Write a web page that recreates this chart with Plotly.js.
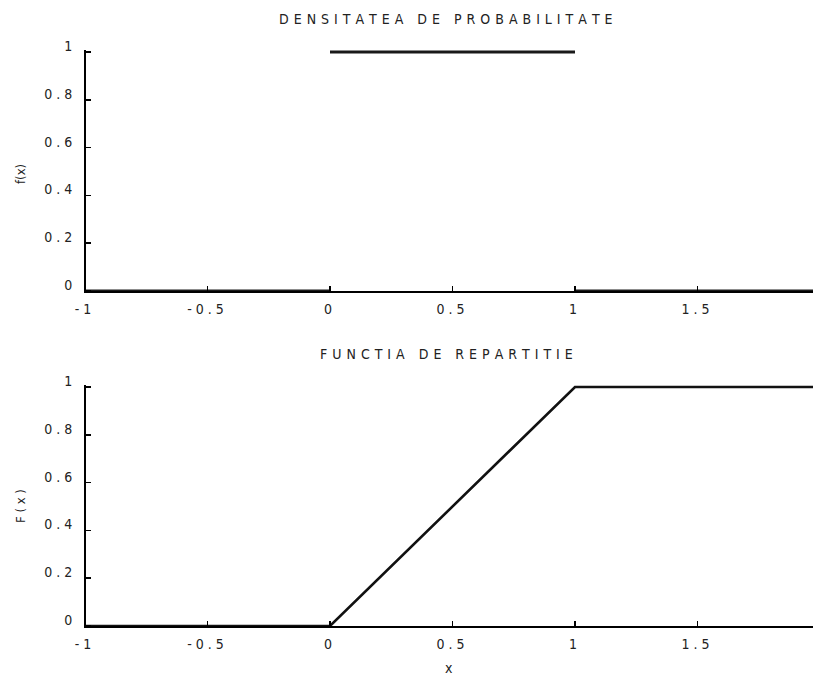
<!DOCTYPE html>
<html>
<head>
<meta charset="utf-8">
<script src="https://cdn.plot.ly/plotly-3.0.1.min.js"></script>
<style>html,body{margin:0;padding:0;background:#fff;}#chart{width:813px;height:677px;}</style>
</head>
<body>
<div id="chart"></div>
<script>
// Data
const xPdf = [-1, 0, null, 0, 1, null, 1, 2];
const yPdf = [0, 0, null, 1, 1, null, 0, 0];
const xCdf = [-1, 0, 1, 2];
const yCdf = [0, 0, 1, 1];
const xTickVals = [-1, -0.5, 0, 0.5, 1, 1.5];
const xTickText = ['- 1', '- 0 . 5', '0', '0 . 5', '1', '1 . 5'];
const yTickVals = [0, 0.2, 0.4, 0.6, 0.8, 1];
const yTickText = ['0', '0 . 2', '0 . 4', '0 . 6', '0 . 8', '1'];
const titleTop = 'D E N S I T A T E A\u00a0\u00a0 D E\u00a0\u00a0 P R O B A B I L I T A T E';
const titleBottom = 'F U N C T I A\u00a0\u00a0 D E\u00a0\u00a0 R E P A R T I T I E';
const yTitleTop = 'f(x)';
const yTitleBottom = 'F ( x )';
const xTitle = 'x';

const FONT = '"DejaVu Sans Condensed", "Liberation Sans Narrow", sans-serif';
const W = 813, H = 677;
const xLeftPx = 85;
const pxPerX = 245;
const xMax = -1 + (W - xLeftPx) / pxPerX;

function py(p) { return 1 - p / H; }

const traces = [
  {x: xPdf, y: yPdf, xaxis: 'x', yaxis: 'y', mode: 'lines', line: {color: '#1a1a1a', width: 3}, hoverinfo: 'skip', connectgaps: false},
  {x: xCdf, y: yCdf, xaxis: 'x2', yaxis: 'y2', mode: 'lines', line: {color: '#111', width: 2.6}, hoverinfo: 'skip'}
];

function xax(posPx) {
  return {
    domain: [xLeftPx / W, 1], range: [-1, xMax], anchor: 'free', position: py(posPx),
    showline: true, linecolor: '#000', linewidth: 1.5, showgrid: false, zeroline: false,
    ticks: 'inside', ticklen: 5, tickwidth: 1.5, tickcolor: '#000',
    tickvals: xTickVals, ticktext: xTickText, ticklabelstandoff: 5, ticklabelshift: -2,
    tickfont: {family: FONT, size: 14, color: '#222'}
  };
}
function yax(topPx, botPx) {
  return {
    domain: [py(botPx + 2.4), py(topPx - 2.4)], range: [-0.01, 1.01], anchor: 'free', position: xLeftPx / W,
    showline: true, linecolor: '#000', linewidth: 2, showgrid: false, zeroline: false,
    ticks: 'inside', ticklen: 5, tickwidth: 1.5, tickcolor: '#000',
    tickvals: yTickVals, ticktext: yTickText, ticklabelshift: -6, ticklabelstandoff: 9,
    tickfont: {family: FONT, size: 14, color: '#222'}
  };
}

const ann = (text, xp, yp, angle, size) => ({
  text: text, xref: 'paper', yref: 'paper', x: xp / W, y: py(yp), xanchor: 'center', yanchor: 'middle',
  showarrow: false, textangle: angle || 0, font: {family: FONT, size: size || 13, color: '#222'}
});

const spaced = t => '<span style="letter-spacing:0.5px">' + t + '</span>';

const layout = {
  width: W, height: H,
  margin: {l: 0, r: 0, t: 0, b: 0},
  paper_bgcolor: '#fff', plot_bgcolor: '#fff',
  showlegend: false,
  xaxis: xax(291),
  yaxis: yax(52, 291),
  xaxis2: xax(626),
  yaxis2: yax(387, 626),
  annotations: [
    ann(spaced(titleTop), 446, 19, 0, 14),
    ann(spaced(titleBottom), 446, 354, 0, 14),
    ann(xTitle, 449, 668, 0, 14),
    ann(yTitleTop, 20, 174, -90, 13),
    ann(yTitleBottom, 20, 506, -90, 13)
  ]
};

Plotly.newPlot('chart', traces, layout, {staticPlot: true, displayModeBar: false});
</script>
</body>
</html>
